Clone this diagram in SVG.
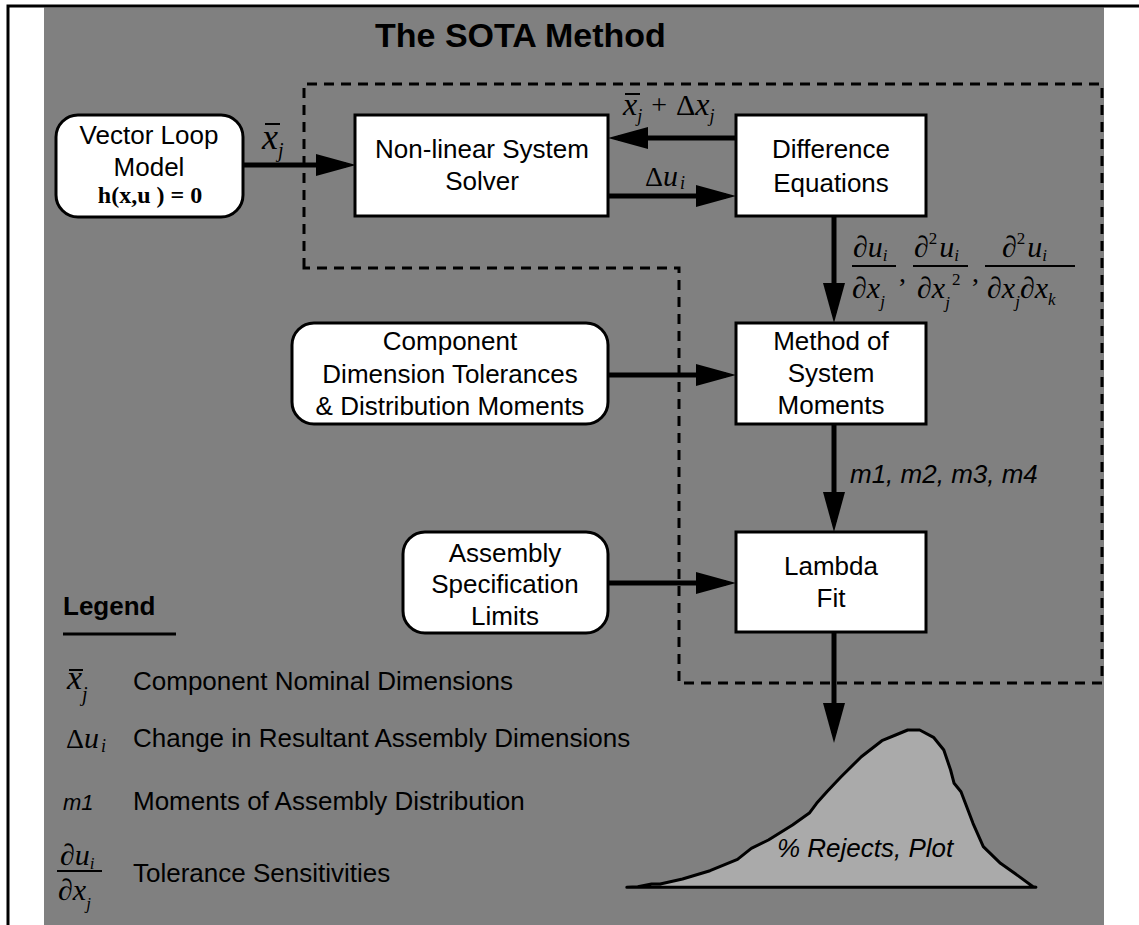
<svg xmlns="http://www.w3.org/2000/svg" width="1139" height="925" viewBox="0 0 1139 925">
<defs>
<marker id="ah" markerUnits="userSpaceOnUse" markerWidth="40" markerHeight="22" refX="30" refY="11" orient="auto" viewBox="0 0 40 22">
<path d="M0,0 L40,11 L0,22 Z" fill="#000"/>
</marker>
</defs>
<style>
.frame{stroke:#000;stroke-width:3;fill:none}
.node{fill:#fff;stroke:#000;stroke-width:3}
.t{font-family:"Liberation Sans",Arial,sans-serif;font-size:26px;fill:#000;text-anchor:middle}
.tl{font-family:"Liberation Sans",Arial,sans-serif;font-size:26px;fill:#000}
.it{font-style:italic}
.m{font-family:"Liberation Serif","Times New Roman",serif;font-style:italic;fill:#000}
.mu{font-family:"Liberation Serif","Times New Roman",serif;font-style:normal;fill:#000}
.conn{stroke:#000;stroke-width:5;fill:none;marker-end:url(#ah)}
.bar{stroke:#000;stroke-width:2}
.dash{stroke:#000;stroke-width:3;fill:none;stroke-dasharray:10 7}
</style>
<rect x="44" y="7.5" width="1060" height="917.5" fill="#808080"/>
<path class="frame" d="M8,925 V6 H1139"/>
<text x="375" y="47" font-family="Liberation Sans, Arial, sans-serif" font-size="34" font-weight="bold" fill="#000">The SOTA Method</text>
<path class="dash" d="M304,268 V84 H1102 V683 H679 V268 Z"/>
<g id="connectors">
<path class="conn" d="M243,165 H346"/>
<path class="conn" d="M736,138 H618"/>
<path class="conn" d="M608,196 H726"/>
<path class="conn" d="M834,216 V313"/>
<path class="conn" d="M608,375 H726"/>
<path class="conn" d="M834,424 V522"/>
<path class="conn" d="M608,583 H726"/>
<path class="conn" d="M834,632 V733"/>
</g>
<g id="labels">
<text class="m" x="262" y="149" font-size="36">x<tspan font-size="20" dy="8">j</tspan></text>
<line class="bar" x1="265" y1="124" x2="280" y2="124"/>
<text class="m" x="623" y="115" font-size="32">x<tspan font-size="18" dy="7">j</tspan><tspan class="mu" font-size="28" dx="9" dy="-8">+</tspan><tspan class="mu" font-size="30" dx="9" dy="1">Δ</tspan><tspan font-size="32">x</tspan><tspan font-size="18" dy="7">j</tspan></text>
<line class="bar" x1="625" y1="94" x2="640" y2="94"/>
<text class="m" x="645" y="186" font-size="30"><tspan class="mu" font-size="28">Δ</tspan>u<tspan font-size="18" dx="2" dy="3">i</tspan></text>
<text class="m" x="853" y="257" font-size="30">∂u<tspan font-size="17" dy="4">i</tspan></text>
<line class="bar" x1="852" y1="266" x2="896" y2="266"/>
<text class="m" x="852" y="298" font-size="30">∂x<tspan font-size="17" dy="9">j</tspan></text>
<text class="mu" x="899" y="282" font-size="28">,</text>
<text class="m" x="914" y="257" font-size="30">∂<tspan class="mu" font-size="17" dy="-13">2</tspan><tspan dx="2" dy="13">u</tspan><tspan font-size="17" dy="4">i</tspan></text>
<line class="bar" x1="913" y1="266" x2="968" y2="266"/>
<text class="m" x="917" y="298" font-size="30">∂x<tspan font-size="17" dy="10">j</tspan></text>
<text class="mu" x="952" y="285" font-size="17">2</text>
<text class="mu" x="972" y="282" font-size="28">,</text>
<text class="m" x="1002" y="257" font-size="30">∂<tspan class="mu" font-size="17" dy="-13">2</tspan><tspan dx="2" dy="13">u</tspan><tspan font-size="17" dy="4">i</tspan></text>
<line class="bar" x1="985" y1="266" x2="1075" y2="266"/>
<text class="m" x="987" y="298" font-size="30">∂x<tspan font-size="17" dy="9">j</tspan><tspan dy="-9">∂x</tspan><tspan font-size="17" dy="7">k</tspan></text>
<text class="tl it" x="850" y="483">m1, m2, m3, m4</text>
</g>
<g id="vector-loop">
<rect class="node" x="56" y="115" width="187" height="102" rx="22"/>
<text class="t" x="149" y="144">Vector Loop</text>
<text class="t" x="149" y="176">Model</text>
<text x="150" y="203" font-family="Liberation Serif, Times New Roman, serif" font-size="24" font-weight="bold" text-anchor="middle" fill="#000">h(x,u ) = 0</text>
</g>
<g id="solver">
<rect class="node" x="355" y="115" width="253" height="101"/>
<text class="t" x="482" y="158">Non-linear System</text>
<text class="t" x="482" y="190">Solver</text>
</g>
<g id="difference">
<rect class="node" x="736" y="115" width="190" height="101"/>
<text class="t" x="831" y="158">Difference</text>
<text class="t" x="831" y="192">Equations</text>
</g>
<g id="method">
<rect class="node" x="736" y="323" width="190" height="101"/>
<text class="t" x="831" y="350">Method of</text>
<text class="t" x="831" y="382">System</text>
<text class="t" x="831" y="414">Moments</text>
</g>
<g id="component">
<rect class="node" x="292" y="323" width="316" height="101" rx="22"/>
<text class="t" x="450" y="350">Component</text>
<text class="t" x="450" y="383">Dimension Tolerances</text>
<text class="t" x="450" y="415">&amp; Distribution Moments</text>
</g>
<g id="assembly">
<rect class="node" x="403" y="532" width="205" height="101" rx="22"/>
<text class="t" x="505" y="562">Assembly</text>
<text class="t" x="505" y="593">Specification</text>
<text class="t" x="505" y="625">Limits</text>
</g>
<g id="lambda">
<rect class="node" x="736" y="532" width="190" height="100"/>
<text class="t" x="831" y="575">Lambda</text>
<text class="t" x="831" y="607">Fit</text>
</g>
<g id="plot">
<path d="M626.8,887.3 L637.8,886.7 L651.6,884 L660.2,884 L682.5,879 L710,870.7 L737.5,859.3 L751.3,848.3 L768.4,840 L792.5,825 L809.7,812.7 L816.6,803.3 L826.9,791.7 L840.6,777.3 L861.3,756.7 L881.9,740.7 L895.6,735 L907.7,730 L919.7,730 L933.5,737.3 L943.8,750 L950.6,770 L954.1,783.3 L961,791.7 L973,823.3 L983.3,846.7 L1000.5,863.3 L1012.5,871.7 L1033.1,886.7 L1035.9,887.3 Z" fill="#aaaaaa" stroke="#000" stroke-width="3" stroke-linejoin="round"/>
<text class="tl it" x="777" y="857">% Rejects, Plot</text>
</g>
<g id="legend">
<text x="63" y="615" font-family="Liberation Sans, Arial, sans-serif" font-size="26" font-weight="bold" fill="#000">Legend</text>
<line x1="63" y1="634" x2="176" y2="634" stroke="#000" stroke-width="3"/>
<text class="m" x="67" y="689" font-size="34">x<tspan font-size="20" dy="12">j</tspan></text>
<line class="bar" x1="69" y1="670" x2="83" y2="670"/>
<text class="tl" x="133" y="690">Component Nominal Dimensions</text>
<text class="m" x="66" y="748" font-size="30"><tspan class="mu" font-size="28">Δ</tspan>u<tspan font-size="18" dx="2" dy="4">i</tspan></text>
<text class="tl" x="133" y="747">Change in Resultant Assembly Dimensions</text>
<text class="tl it" x="63" y="810" style="font-size:22px">m1</text>
<text class="tl" x="133" y="810">Moments of Assembly Distribution</text>
<text class="m" x="60" y="865" font-size="30">∂u<tspan font-size="17" dy="4">i</tspan></text>
<line class="bar" x1="57" y1="871" x2="102" y2="871"/>
<text class="m" x="58" y="900" font-size="30">∂x<tspan font-size="17" dy="9">j</tspan></text>
<text class="tl" x="133" y="882">Tolerance Sensitivities</text>
</g>
</svg>
